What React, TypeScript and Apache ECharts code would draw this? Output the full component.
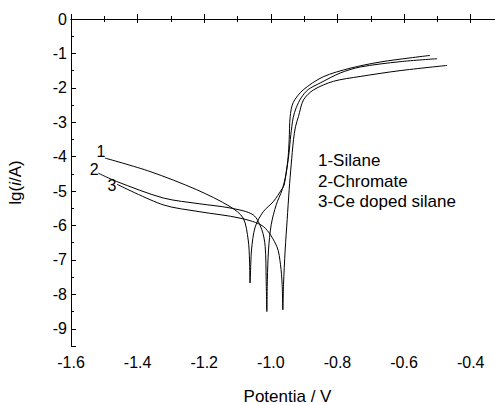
import React, { useEffect, useRef } from "react";
import * as echarts from "echarts";

// Polarization curves: [potential (V), lg(i/A)]
const silane: number[][] = [
  [-1.498, -4.04], [-1.363, -4.43], [-1.2225, -4.96], [-1.1225, -5.45], [-1.083, -5.785],
  [-1.068, -6.42], [-1.064, -7.0], [-1.0625, -7.67],
  [-1.058, -6.71], [-1.047, -6.04], [-1.023, -5.6], [-0.993, -5.31], [-0.966, -4.93],
  [-0.96, -4.82], [-0.954, -4.47], [-0.948, -4.0], [-0.945, -3.51], [-0.942, -2.84],
  [-0.933, -2.43], [-0.903, -2.06], [-0.843, -1.68], [-0.762, -1.43], [-0.672, -1.25],
  [-0.582, -1.13], [-0.522, -1.058],
];
const chromate: number[][] = [
  [-1.518, -4.48], [-1.463, -4.72], [-1.323, -5.2], [-1.213, -5.37], [-1.1225, -5.49],
  [-1.053, -5.69], [-1.027, -6.125], [-1.017, -6.61], [-1.014, -7.58], [-1.012, -8.5],
  [-1.0105, -7.58], [-1.007, -6.71], [-0.999, -5.98], [-0.984, -5.4], [-0.966, -4.96],
  [-0.955, -4.53], [-0.946, -3.94], [-0.94, -3.36], [-0.933, -2.87], [-0.924, -2.58],
  [-0.909, -2.29], [-0.888, -2.05], [-0.852, -1.86], [-0.792, -1.57], [-0.732, -1.395],
  [-0.612, -1.24], [-0.501, -1.154],
];
const ceDoped: number[][] = [
  [-1.462, -4.8], [-1.323, -5.4], [-1.213, -5.6], [-1.0925, -5.785], [-1.0225, -6.03],
  [-0.982, -6.61], [-0.971, -7.14], [-0.966, -7.72], [-0.964, -8.45],
  [-0.962, -7.72], [-0.957, -6.71], [-0.951, -5.83], [-0.945, -4.96], [-0.939, -4.24],
  [-0.932, -3.51], [-0.926, -3.13], [-0.917, -2.83], [-0.902, -2.35], [-0.872, -2.06],
  [-0.812, -1.81], [-0.732, -1.67], [-0.612, -1.5], [-0.471, -1.349],
];
const curveTags = ["1", "2", "3"];
const legendLines = ["1-Silane", "2-Chromate", "3-Ce doped silane"];

const xTitle = "Potentia / V";
const yTitle = "lg({it|i}/A)";

const FONT = "'Liberation Sans', Arial, Helvetica, sans-serif";

export default function App() {
  const ref = useRef<HTMLDivElement>(null);
  useEffect(() => {
    if (!ref.current) return;
    const chart = echarts.init(ref.current, null, { renderer: "svg" });
    const tagOffsets = [[-4, -7], [-4, -4], [-5, 1]];
    const makeSeries = (data: number[][], idx: number) => ({
      type: "line",
      xAxisIndex: 0,
      yAxisIndex: 1,
      data,
      showSymbol: false,
      symbol: "none",
      smooth: 0.3,
      lineStyle: { color: "#000", width: 1 },
      silent: true,
      markPoint: {
        symbol: "circle",
        symbolSize: 0,
        silent: true,
        data: [
          {
            coord: data[0],
            label: {
              show: true,
              formatter: curveTags[idx],
              color: "#000",
              fontSize: 16,
              fontFamily: FONT,
              position: "inside",
              offset: tagOffsets[idx],
            },
          },
        ],
      },
    });
    const option: any = {
      animation: false,
      backgroundColor: "#fff",
      grid: { left: 71, top: 19, right: -9, bottom: 59, containLabel: false, outerBoundsMode: "none" },
      xAxis: [
        {
          type: "value",
          position: "bottom",
          min: -1.6,
          max: -0.3,
          interval: 0.2,
          axisLine: { show: true, lineStyle: { color: "#000", width: 1 } },
          axisTick: { show: true, inside: true, length: 5, lineStyle: { color: "#000" } },
          minorTick: { show: true, splitNumber: 2, length: 3, lineStyle: { color: "#000" } },
          splitLine: { show: false },
          axisLabel: {
            color: "#000",
            fontSize: 16,
            fontFamily: FONT,
            margin: 8,
            showMaxLabel: false,
            formatter: (v: number) => v.toFixed(1),
          },
          name: xTitle,
          nameLocation: "middle",
          nameGap: 42,
          nameTextStyle: { color: "#000", fontSize: 17, fontFamily: FONT },
        },
        {
          type: "value",
          position: "top",
          min: -1.6,
          max: -0.3,
          interval: 0.2,
          axisLine: { show: true, lineStyle: { color: "#000", width: 1 } },
          axisTick: { show: true, inside: true, length: 4, lineStyle: { color: "#000" } },
          minorTick: { show: true, splitNumber: 2, length: 3, lineStyle: { color: "#000" } },
          splitLine: { show: false },
          axisLabel: { show: false },
        },
      ],
      yAxis: [
        {
          type: "value",
          position: "left",
          min: 0,
          max: 9.5,
          interval: 1,
          inverse: true,
          axisLine: { show: true, lineStyle: { color: "#000", width: 1 } },
          axisTick: { show: true, inside: true, length: 5, lineStyle: { color: "#000" } },
          minorTick: { show: true, splitNumber: 2, length: 3, lineStyle: { color: "#000" } },
          splitLine: { show: false },
          axisLabel: {
            color: "#000",
            fontSize: 16,
            fontFamily: FONT,
            margin: 4,
            showMaxLabel: false,
            formatter: (v: number) => (v === 0 ? "0" : "-" + v),
          },
          name: yTitle,
          nameLocation: "middle",
          nameGap: 47,
          nameTextStyle: {
            color: "#000",
            fontSize: 17,
            fontFamily: FONT,
            rich: { it: { fontStyle: "italic", fontSize: 17, fontFamily: FONT, color: "#000" } },
          },
        },
        {
          type: "value",
          position: "left",
          min: -9.5,
          max: 0,
          show: false,
        },
      ],
      series: [makeSeries(silane, 0), makeSeries(chromate, 1), makeSeries(ceDoped, 2)],
      graphic: legendLines.map((t, i) => ({
        type: "text",
        left: 318,
        top: 152 + i * 20.5,
        silent: true,
        style: { text: t, fill: "#000", fontSize: 17, fontFamily: FONT },
      })),
    };
    chart.setOption(option);
    return () => chart.dispose();
  }, []);
  return (
    <div
      ref={ref}
      style={{ position: "fixed", left: 0, top: 0, width: 495, height: 405, overflow: "hidden", background: "#fff" }}
    />
  );
}
